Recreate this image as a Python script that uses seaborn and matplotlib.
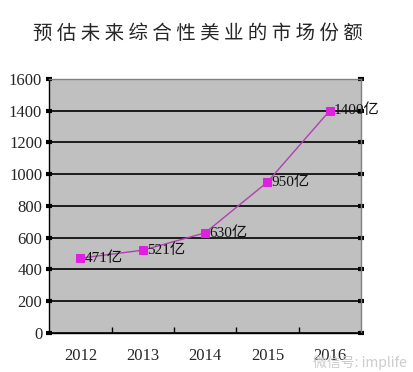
import pandas as pd
import seaborn as sns
import matplotlib.pyplot as plt

# 数据
years = ['2012', '2013', '2014', '2015', '2016']
values = [471, 521, 630, 950, 1400]
labels = ['471亿', '521亿', '630亿', '950亿', '1400亿']

df = pd.DataFrame({'year': years, 'value': values})

sns.set_style('white')
plt.rcParams['font.family'] = ['Liberation Serif', 'Noto Sans CJK SC']

fig = plt.figure(figsize=(4.13, 3.72), dpi=100)
ax = fig.add_axes([0.119, 0.105, 0.755, 0.683])
ax.set_facecolor('#c0c0c0')

sns.lineplot(data=df, x='year', y='value', ax=ax, color='#b040b0', linewidth=1,
             marker='s', markersize=6, markerfacecolor='#e020e0',
             markeredgecolor='#e020e0', sort=False)

for i, (v, t) in enumerate(zip(values, labels)):
    ax.annotate(t, (i, v), xytext=(3, 0), textcoords='offset points',
                va='center', ha='left', fontsize=11, color='#111111')

ax.set_xlim(-0.5, 4.5)
ax.set_ylim(0, 1600)
ax.set_yticks(range(0, 1601, 200))
ax.set_xticks([x + 0.5 for x in range(4)], minor=True)
ax.set_xticks(range(5))
ax.set_xticklabels(years)
ax.yaxis.grid(True, color='black', linewidth=1.2)
ax.set_axisbelow(True)
ax.set_xlabel('')
ax.set_ylabel('')

for s in ax.spines.values():
    s.set_color('#808080')
    s.set_linewidth(1)
ax.spines['left'].set_color('black')
ax.spines['bottom'].set_color('black')

ax.tick_params(axis='y', which='major', left=True, right=True, direction='inout',
               length=4, width=3, color='black', labelsize=12, pad=3)
ax.tick_params(axis='x', which='major', bottom=False, labelsize=12, pad=7)
ax.tick_params(axis='x', which='minor', bottom=True, direction='in',
               length=4, width=1, color='black')

title = '预估未来综合性美业的市场份额'
fig.text(0.48, 0.91, ' '.join(title), ha='center', va='center',
         fontsize=14, fontweight='medium', family=['Noto Sans CJK SC'])
fig.text(0.985, 0.025, '微信号: implife', ha='right', va='center', fontsize=10,
         color='#cccccc', family=['Noto Sans CJK SC', 'DejaVu Sans'])

fig.savefig('out.png', dpi=100)
